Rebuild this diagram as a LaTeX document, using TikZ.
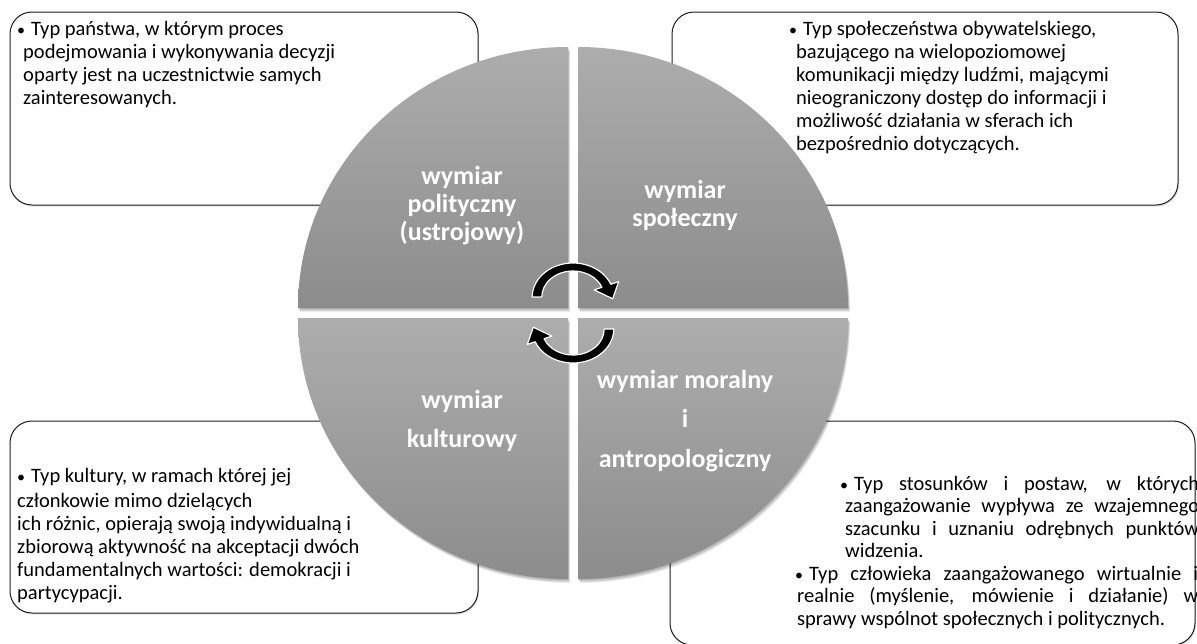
\documentclass[tikz,border=0pt]{standalone}
\usepackage{fontspec}
\setmainfont{Carlito}
\usetikzlibrary{shadows}
\definecolor{qtop}{RGB}{173,173,173}
\definecolor{qbot}{RGB}{140,140,140}
\definecolor{boxline}{RGB}{30,30,30}
\tikzset{
  infobox/.style={draw=boxline, line width=1pt, fill=white, rounded corners=22pt,
    drop shadow={shadow xshift=1pt, shadow yshift=-1.5pt, opacity=0.25}},
  quad/.style={top color=qtop, bottom color=qbot, draw=none},
  qshadow/.style={fill=black, opacity=0.07},
  boxtext/.style={inner sep=0pt, anchor=north west, align=left, text=black,
    font=\fontsize{20.5}{23}\selectfont},
  boxtextj/.style={inner sep=0pt, anchor=north west, align=left, text=black,
    font=\fontsize{20.5}{22.5}\selectfont},
  qlabel/.style={inner sep=0pt, anchor=north, align=center, text=white,
    font=\bfseries\fontsize{26}{28}\selectfont},
  qlabelwide/.style={qlabel, font=\bfseries\fontsize{26}{39.5}\selectfont},
  cycarrow/.style={fill=black, draw=white, line width=1.2pt, line join=round}
}
\newcommand{\fs}{\rule{0pt}{17pt}}
\newcommand{\ls}{\rule{0pt}{21pt}}
\newcommand{\bul}{\hbox{{\fontsize{16}{16}\selectfont•}\hspace{6pt}Typ}}
\def\tlpath{(568,-308) -- (298,-308) arc[start angle=180, end angle=90, x radius=270, y radius=261] -- cycle}
\def\trpath{(578,-308) -- (578,-47) arc[start angle=90, end angle=0, x radius=270, y radius=261] -- cycle}
\def\blpath{(568,-318) -- (298,-318) arc[start angle=180, end angle=270, x radius=270, y radius=261] -- cycle}
\def\brpath{(578,-318) -- (578,-579) arc[start angle=270, end angle=360, x radius=270, y radius=261] -- cycle}
\def\arrowpath{(180:26) arc[start angle=180, end angle=22, radius=26] -- (22:19) -- (33.1,-1.8) -- (22:41) -- (22:34) arc[start angle=22, end angle=180, radius=34] -- cycle}
\begin{document}
\begin{tikzpicture}[x=1pt, y=1pt]
\useasboundingbox (0,0) rectangle (1197,-643);
\fill[white] (0,0) rectangle (1197,-643);

% boxes
\draw[infobox] (10,-12) rectangle (478,-205);
\draw[infobox] (672,-12) rectangle (1178,-205);
\draw[infobox] (10,-421) rectangle (478,-613);
\draw[infobox] (670,-421) rectangle (1195,-645);

% box texts
\node[boxtext] (t1) at (17,-18) {\fs\bul\ państwa, w którym proces\\
\hspace*{6pt}podejmowania i wykonywania decyzji\\
\hspace*{6pt}oparty jest na uczestnictwie samych\\
\hspace*{6pt}zainteresowanych.};

\node[boxtext] (t2) at (789,-18) {\fs\bul\ społeczeństwa obywatelskiego,\\
\hspace*{7pt}bazującego na wielopoziomowej\\
\hspace*{7pt}komunikacji między ludźmi, mającymi\\
\hspace*{7pt}nieograniczony dostęp do informacji i\\
\hspace*{7pt}możliwość działania w sferach ich\\
\hspace*{7pt}bezpośrednio dotyczących.};

\node[boxtext] (t3) at (17,-465) {\fs\bul\ kultury, w ramach której jej\\[2pt]
członkowie mimo dzielących\\
ich różnic, opierają swoją indywidualną i\\
zbiorową aktywność na akceptacji dwóch\\
fundamentalnych wartości: demokracji i\\
partycypacji.};

\node[boxtextj] (t4a) at (840,-473) {\fs\makebox[359pt][s]{\bul\ stosunków i postaw, w których}\\
\hspace*{5pt}\makebox[354pt][s]{zaangażowanie wypływa ze wzajemnego}\\
\hspace*{5pt}\makebox[354pt][s]{szacunku i uznaniu odrębnych punktów}\\
\hspace*{5pt}widzenia.};

\node[boxtextj] (t4b) at (795,-563) {\fs\makebox[403pt][s]{\bul\ człowieka zaangażowanego wirtualnie i}\\
\hspace*{2pt}\makebox[401pt][s]{realnie (myślenie, mówienie i działanie) w}\\
\hspace*{2pt}sprawy wspólnot społecznych i politycznych.};

% quadrant shadows
\foreach \d in {1,2,3,4,5}{
  \fill[qshadow, xshift=0.4*\d pt, yshift=-0.8*\d pt] \tlpath;
  \fill[qshadow, xshift=0.4*\d pt, yshift=-0.8*\d pt] \trpath;
  \fill[qshadow, xshift=0.4*\d pt, yshift=-0.8*\d pt] \blpath;
  \fill[qshadow, xshift=0.4*\d pt, yshift=-0.8*\d pt] \brpath;
}
% quadrants
\path[quad] \tlpath;
\path[quad] \trpath;
\path[quad] \blpath;
\path[quad] \brpath;

% quadrant labels
\node[qlabel] (q1) at (462,-163) {\ls wymiar\\polityczny\\(ustrojowy)};
\node[qlabel] (q2) at (685,-177) {\ls wymiar\\społeczny};
\node[qlabelwide] (q3) at (462,-387) {\ls wymiar\\kulturowy};
\node[qlabelwide] (q4) at (685,-367) {\ls wymiar moralny\\i\\antropologiczny};

% cycle arrows
\begin{scope}[shift={(573,-297)}, xscale=1.2]
  \draw[cycarrow] \arrowpath;
\end{scope}
\begin{scope}[shift={(573,-329)}, xscale=1.2, rotate=180]
  \draw[cycarrow] \arrowpath;
\end{scope}
\end{tikzpicture}
\end{document}
